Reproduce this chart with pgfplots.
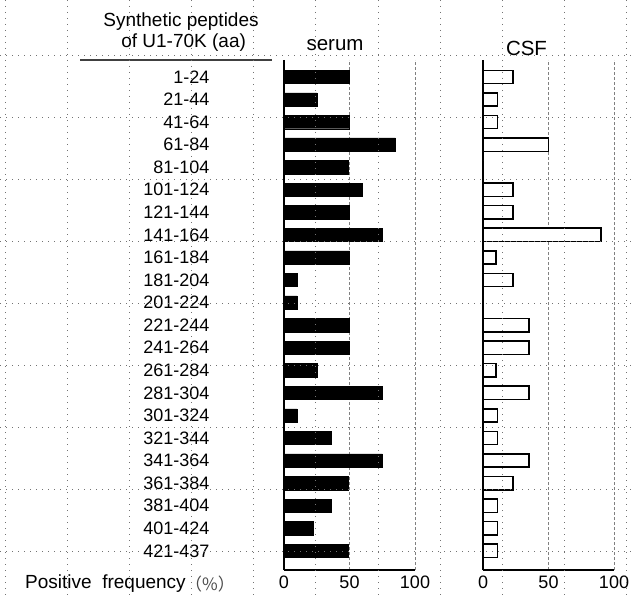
\documentclass[border=0pt]{standalone}
\usepackage{pgfplots}
\usepackage{pgfplotstable}
\pgfplotsset{compat=1.18}
\usepackage{fontspec}
\setmainfont{Liberation Sans}
\newfontfamily\cjk{Noto Sans CJK SC}
\pgfplotstableread{
pos serum csf
21 50 23
20 25 11
19 50 11
18 85 50
17 49 0
16 60 23
15 50 23
14 75 90
13 50 10
12 10 23
11 10 0
10 50 35
9 50 35
8 25 10
7 75 35
6 10 11
5 36 11
4 75 35
3 49 23
2 36 11
1 22 11
0 49 11
}\datatab
\pgfplotsset{
  myax/.style={
    scale only axis, width=131pt, height=510pt,
    xmin=0, xmax=100, ymin=-0.85, ymax=21.75,
    axis x line*=bottom, axis y line*=left,
    axis line style={-, black, line width=1.6pt},
    xtick={0,50,100}, major tick length=0pt,
    xmajorgrids, grid style={gray, densely dashed, line width=1pt},
    xticklabel style={font=\fontsize{18}{20}\selectfont, yshift=-2pt},
    /pgf/number format/assume math mode=true,
    xbar, bar width=0.59,
    clip=false,
  }
}
\begin{document}
\begin{tikzpicture}
\useasboundingbox (0pt,0pt) rectangle (634pt,-599pt);
\begin{axis}[myax, at={(284pt,-570pt)}, anchor=south west,
  ytick={0,...,21},
  yticklabels={421-437,401-424,381-404,361-384,341-364,321-344,301-324,281-304,261-284,241-264,221-244,201-224,181-204,161-184,141-164,121-144,101-124,81-104,61-84,41-64,21-44,1-24},
  yticklabel style={font=\fontsize{18}{20}\selectfont, xshift=-71pt},
]
\addplot[fill=black, draw=black] table[x=serum, y=pos] {\datatab};
\end{axis}
\begin{axis}[myax, at={(483pt,-570pt)}, anchor=south west, ytick=\empty]
\addplot[fill=white, draw=black, line width=1.5pt] table[x=csf, y=pos] {\datatab};
\end{axis}
% header
\node[font=\fontsize{19}{20.5}\selectfont, align=center] at (181pt,-32pt) {Synthetic peptides\\ \ of U1-70K (aa)};
\draw[black!75, line width=1.2pt] (80pt,-60pt) -- (272pt,-60pt);
\node[font=\fontsize{20.5}{22}\selectfont] at (335pt,-45pt) {serum};
\node[font=\fontsize{20.5}{22}\selectfont] at (526.5pt,-48pt) {CSF};
\node[font=\fontsize{19}{20}\selectfont, anchor=west, inner sep=0pt] at (25pt,-584pt) {Positive\ \ frequency};
\node[font=\cjk\fontsize{17}{20}\selectfont, text=black!70, anchor=west, inner sep=0pt] at (185pt,-584pt) {（\%）};
% background dotted grid
\foreach \yy in {55,117,179,241,303,365,427,489,551} {
  \draw[black!55, line width=0.8pt, dash pattern=on 0.8pt off 5.2pt] (0pt,-\yy pt) -- (634pt,-\yy pt);
}
\foreach \xx in {5,67,129,191,253,315,378,440,502,564,626} {
  \draw[black!55, line width=0.8pt, dash pattern=on 0.8pt off 5.2pt] (\xx pt,0pt) -- (\xx pt,-599pt);
}
\end{tikzpicture}
\end{document}
